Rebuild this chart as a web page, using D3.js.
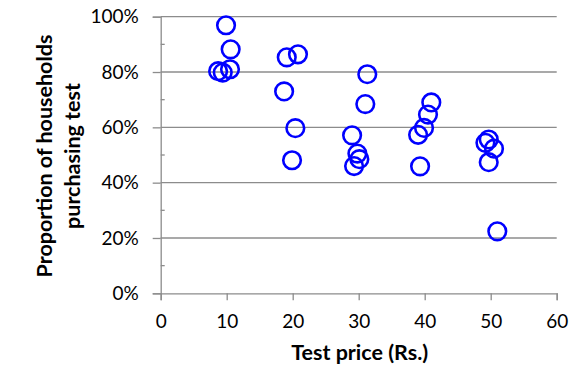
<!DOCTYPE html>
<html>
<head>
<meta charset="utf-8">
<script src="https://cdn.jsdelivr.net/npm/d3@7"></script>
<style>
  html, body { margin: 0; padding: 0; background: #fff; }
  svg { display: block; }
</style>
</head>
<body>
<svg id="chart" width="585" height="380"></svg>
<script>
// Data
const prices = [9.9, 10.6, 10.5, 8.7, 9.4, 19.1, 20.8, 18.7, 20.4, 19.9, 31.3, 31.0, 29.0, 29.8, 30.1, 29.3, 41.0, 40.5, 39.9, 39.0, 39.3, 49.2, 49.7, 50.5, 49.7, 51.0];
const proportions = [96.9, 88.2, 81.0, 80.3, 79.8, 85.3, 86.4, 73.0, 59.7, 48.1, 79.2, 68.4, 57.1, 50.5, 48.5, 46.0, 69.0, 64.6, 59.8, 57.3, 45.9, 54.4, 55.6, 52.3, 47.4, 22.4];
const xTicks = [0, 10, 20, 30, 40, 50, 60];
const yTicks = [0, 20, 40, 60, 80, 100];
const yMinorTicks = [10, 30, 50, 70, 90];
const xTitle = "Test price (Rs.)";
const yTitleLines = ["Proportion of households", "purchasing test"];

(function () {
const svg = d3.select("#chart");
const mLeft = 160.7, mRight = 556.7, mTop = 16.7, mBottom = 293.3;
const axisColor = "#8c8c8c";
const font = "Lato, 'Open Sans', sans-serif";

const x = d3.scaleLinear().domain([0, 60]).range([mLeft, mRight]);
const y = d3.scaleLinear().domain([0, 100]).range([mBottom, mTop]);

// gridlines
svg.append("g").selectAll("line").data(yTicks.filter(d => d > 0)).join("line")
  .attr("x1", mLeft).attr("x2", mRight)
  .attr("y1", d => y(d)).attr("y2", d => y(d))
  .attr("stroke", axisColor).attr("stroke-width", 1.3);

// minor y ticks (inside)
svg.append("g").selectAll("line").data(yMinorTicks).join("line")
  .attr("x1", mLeft).attr("x2", mLeft + 4)
  .attr("y1", d => y(d)).attr("y2", d => y(d))
  .attr("stroke", axisColor).attr("stroke-width", 1.3);

// y axis
const yAxis = svg.append("g").attr("transform", `translate(${mLeft},0)`)
  .call(d3.axisLeft(y).tickValues(yTicks).tickFormat(d => d + "%").tickSize(8).tickPadding(14));
yAxis.select(".domain").attr("stroke", axisColor).attr("stroke-width", 1.3);
yAxis.selectAll(".tick line").attr("stroke", axisColor).attr("stroke-width", 1.3);
yAxis.selectAll("text").attr("font-family", font).attr("font-size", 19).attr("fill", "#000");

// x axis
const xAxis = svg.append("g").attr("transform", `translate(0,${mBottom})`)
  .call(d3.axisBottom(x).tickValues(xTicks).tickSize(7).tickPadding(14));
xAxis.select(".domain").attr("stroke", axisColor).attr("stroke-width", 1.3);
xAxis.selectAll(".tick line").attr("stroke", axisColor).attr("stroke-width", 1.3);
xAxis.selectAll("text").attr("font-family", font).attr("font-size", 19).attr("fill", "#000");

// points
svg.append("g").selectAll("circle").data(prices.map((p, i) => [p, proportions[i]])).join("circle")
  .attr("cx", d => x(d[0])).attr("cy", d => y(d[1]))
  .attr("r", 8.8)
  .attr("fill", "none").attr("stroke", "#0000ff").attr("stroke-width", 2.6);

// axis titles
svg.append("text")
  .attr("x", (mLeft + mRight) / 2 + 1).attr("y", 360)
  .attr("text-anchor", "middle")
  .attr("font-family", font).attr("font-size", 21.5).attr("font-weight", "bold")
  .text(xTitle);

const yt = svg.append("text")
  .attr("transform", `translate(52,156) rotate(-90)`)
  .attr("text-anchor", "middle")
  .attr("font-family", font).attr("font-size", 21.5).attr("font-weight", "bold");
yt.selectAll("tspan").data(yTitleLines).join("tspan")
  .attr("x", 0).attr("dy", (d, i) => i === 0 ? 0 : 28)
  .text(d => d);
})();
</script>
</body>
</html>
